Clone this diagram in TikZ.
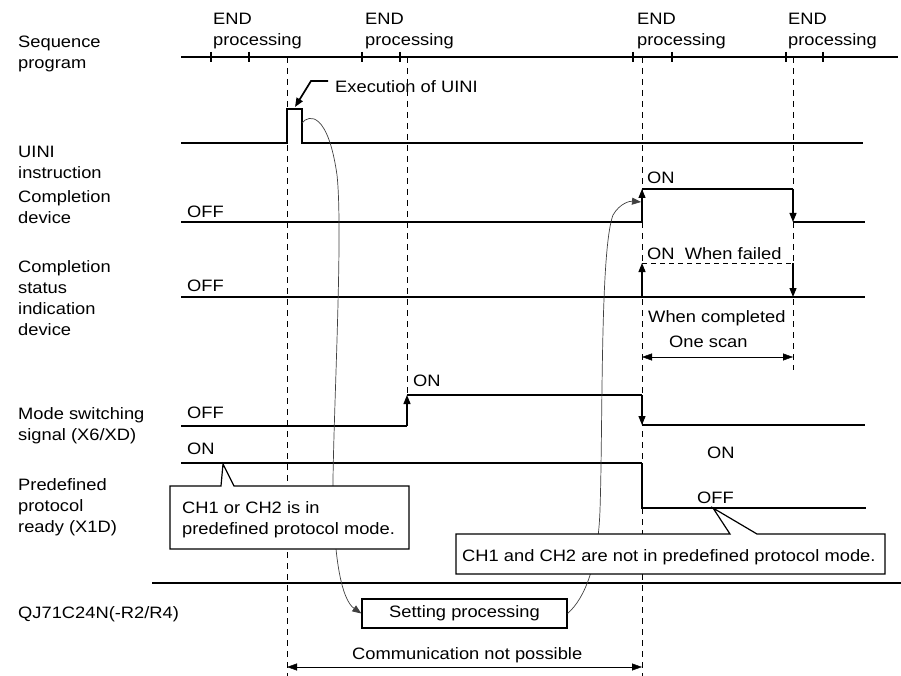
\documentclass[tikz,border=0pt]{standalone}
\usepackage{fontspec}
\setmainfont{Liberation Sans}[FakeStretch=1.11]
\usetikzlibrary{arrows.meta}
\begin{document}
\begin{tikzpicture}[x=1pt,y=-1pt,
  lbl/.style={anchor=north west,inner sep=0pt,align=left,font=\fontsize{16.5}{21}\selectfont},
  sig/.style={line width=1.2pt},
  bold/.style={line width=2.2pt},
  seqline/.style={line width=2.4pt},
  tickmark/.style={line width=1.6pt},
  dsh/.style={line width=0.9pt,dash pattern=on 6pt off 5pt},
  dshh/.style={line width=1pt,dash pattern=on 5pt off 4pt},
  arr/.style={-{Triangle[length=9pt,width=7pt]}},
  darr/.style={{Triangle[length=10pt,width=7pt]}-{Triangle[length=10pt,width=7pt]}},
  crv/.style={line width=0.7pt,black!75},
  lead/.style={line width=1.7pt},
  callout/.style={line width=1.2pt,fill=white,line join=miter},
  procbox/.style={draw,line width=1.3pt,fill=white,minimum width=205pt,minimum height=29pt,inner sep=0pt,font=\fontsize{16.5}{21}\selectfont}
]
\useasboundingbox (0,0) rectangle (901,676);

% dashed guide lines
\draw[dsh] (287,57) -- (287,676);
\draw[dsh] (407,57) -- (407,395);
\draw[dsh] (642,57) -- (642,676);
\draw[dsh] (793,57) -- (793,370);

% sequence program
\draw[seqline] (181,57) -- (898,57);
\foreach \t in {211,249,362,400,633,672,786,823} \draw[tickmark] (\t,52) -- (\t,62);

% UINI instruction
\draw[sig] (181,143) -- (287,143) -- (287,109) -- (302,109) -- (302,143) -- (863,143);
\draw[lead,arr] (328,81) -- (311,81) -- (295,107);

% completion device
\draw[sig] (181,222) -- (642,222);
\draw[sig,arr] (642,222) -- (642,189);
\draw[sig] (642,189) -- (793,189);
\draw[sig,arr] (793,189) -- (793,222);
\draw[sig] (793,222) -- (865,222);

% completion status indication device
\draw[bold] (181,297) -- (865,297);
\draw[sig,arr] (642,297) -- (642,263);
\draw[dshh] (642,263) -- (793,263);
\draw[sig,arr] (793,263) -- (793,297);
\draw[darr] (642,357) -- (793,357);

% mode switching signal
\draw[sig] (181,426) -- (407,426);
\draw[sig,arr] (407,426) -- (407,395);
\draw[sig] (407,395) -- (642,395);
\draw[sig,arr] (642,395) -- (642,425);
\draw[sig] (642,425) -- (865,425);

% predefined protocol ready
\draw[bold] (181,463) -- (642,463);
\draw[sig] (642,463) -- (642,508) -- (866,508);

% separator
\draw[bold] (152,583) -- (901,583);

% setting processing box
\node[procbox] (setproc) at (464.5,613.5) {Setting processing};

% curves
\draw[crv,arr] (302,123) .. controls (309,114) and (328,112) .. (337,175)
  .. controls (343,230) and (334,400) .. (333,480)
  .. controls (333,560) and (342,600) .. (setproc.west);
\draw[crv,arr] (setproc.east) .. controls (585,598) and (598,565) .. (600,510)
  .. controls (603,420) and (600,250) .. (613,215)
  .. controls (620,203) and (630,201) .. (641,202);

% callouts
\draw[callout] (170,486) -- (221,486) -- (223,464) -- (234,486) -- (409,486) -- (409,549) -- (170,549) -- cycle;
\draw[callout] (456,534) -- (730,534) -- (713,508) -- (757,534) -- (885,534) -- (885,574) -- (456,574) -- cycle;

% communication not possible
\draw[darr] (287,667) -- (642,667);

% texts
\node[lbl] (end1) at (213,13) {END\\processing};
\node[lbl] (end2) at (365,13) {END\\processing};
\node[lbl] (end3) at (637,13) {END\\processing};
\node[lbl] (end4) at (788,13) {END\\processing};
\node[lbl] (lseq) at (18,36) {Sequence\\program};
\node[lbl] (exec) at (335,80) {Execution of UINI};
\node[lbl] (luini) at (18,146) {UINI\\instruction};
\node[lbl] (lcd) at (18,190) {Completion\\device};
\node[lbl] (cdoff) at (187,206) {OFF};
\node[lbl] (cdon) at (647,172) {ON};
\node[lbl] (lcs) at (18,260) {Completion\\status\\indication\\device};
\node[lbl] (csoff) at (187,280) {OFF};
\node[lbl] (cson) at (647,247) {ON\hspace{5pt} When failed};
\node[lbl] (cscomp) at (648,310) {When completed};
\node[lbl] (scan) at (669,336) {One scan};
\node[lbl] (lmode) at (18,407) {Mode switching\\signal (X6/XD)};
\node[lbl] (moff) at (187,407) {OFF};
\node[lbl] (mon) at (413,375) {ON};
\node[lbl] (lpre) at (18,478) {Predefined\\protocol\\ready (X1D)};
\node[lbl] (pon) at (187,443) {ON};
\node[lbl] (pon2) at (707,447) {ON};
\node[lbl] (poff) at (697,492) {OFF};
\node[lbl] (c1) at (182,501) {CH1 or CH2 is in\\predefined protocol mode.};
\node[lbl] (c2) at (462,549) {CH1 and CH2 are not in predefined protocol mode.};
\node[lbl] (lqj) at (18,606) {QJ71C24N(-R2/R4)};
\node[lbl] (comm) at (352,647) {Communication not possible};
\end{tikzpicture}
\end{document}
